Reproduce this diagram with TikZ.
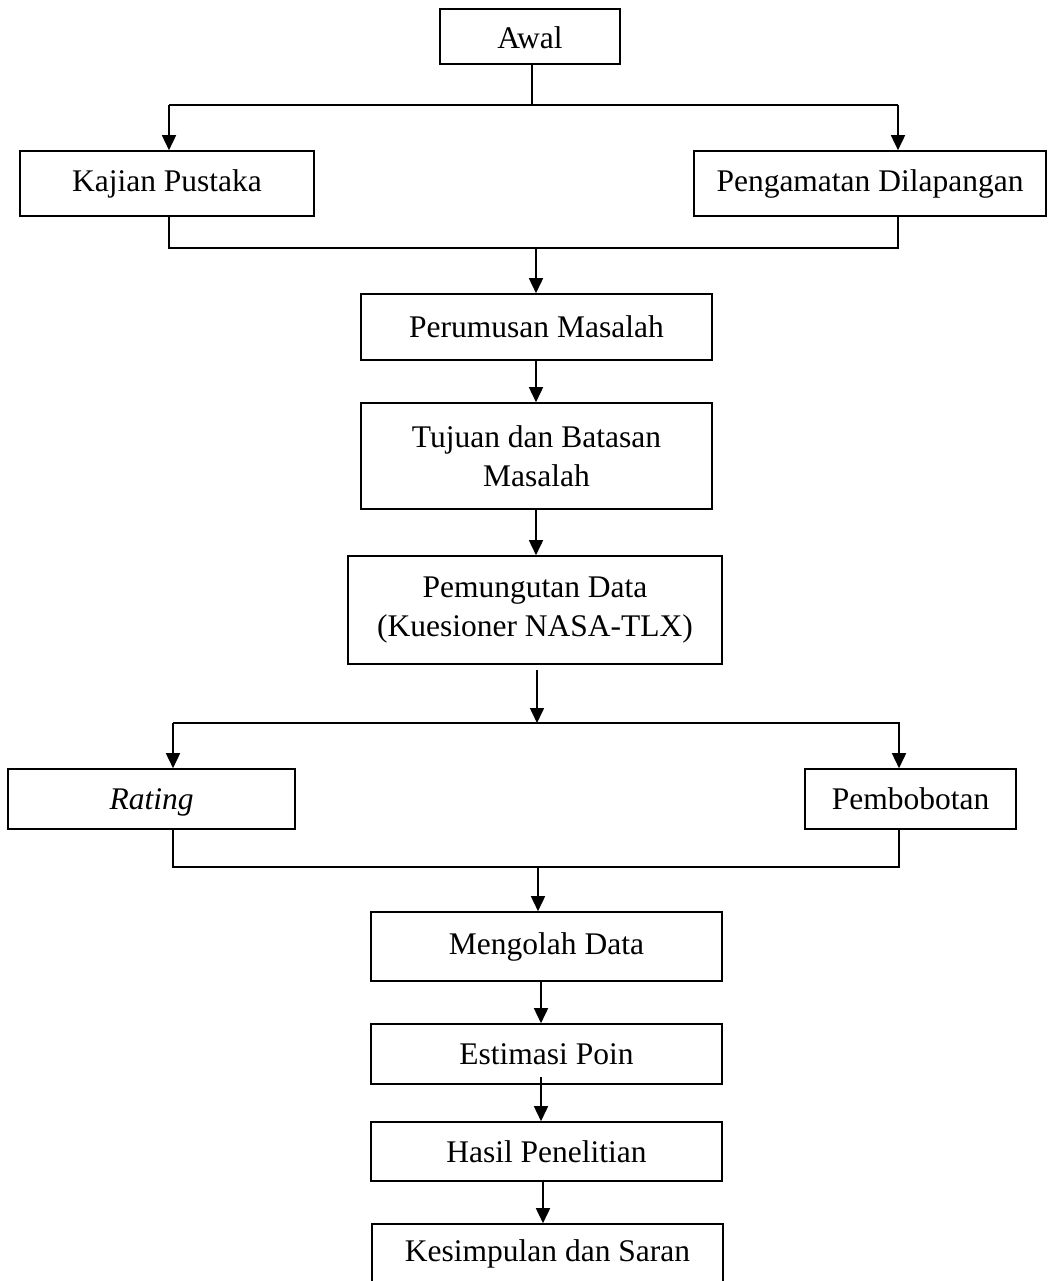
\documentclass[tikz,border=0pt]{standalone}
\usepackage{fontspec}
\setmainfont{Liberation Serif}
\usetikzlibrary{arrows.meta}
\begin{document}
\begin{tikzpicture}[x=1pt,y=-1pt,
  box/.style={draw,line width=1.6pt,rectangle,inner sep=0pt,align=center,font=\fontsize{31.5}{39}\selectfont},
  conn/.style={line width=1.6pt},
  arr/.style={line width=1.6pt,-{Triangle[length=15pt,width=14pt]}}]
\useasboundingbox (0,0) rectangle (1049,1281);
\clip (0,0) rectangle (1049,1281);
% boxes
\node[box,minimum width=180pt,minimum height=55pt,text height=24pt,text depth=0pt] (awal) at (530,36.5) {Awal};
\node[box,minimum width=294pt,minimum height=65pt] (kajian) at (167,183.5) {Kajian Pustaka};
\node[box,minimum width=352pt,minimum height=65pt] (amat) at (870,183.5) {Pengamatan Dilapangan};
\node[box,minimum width=351pt,minimum height=66pt] (rumus) at (536.5,327) {Perumusan Masalah};
\node[box,minimum width=351pt,minimum height=106pt] (tujuan) at (536.5,456) {Tujuan dan Batasan\\Masalah};
\node[box,minimum width=374pt,minimum height=108pt] (pungut) at (535,610) {Pemungutan Data\\(Kuesioner NASA-TLX)};
\node[box,minimum width=287pt,minimum height=60pt,text depth=0pt] (rating) at (151.5,799) {\itshape Rating};
\node[box,minimum width=211pt,minimum height=60pt] (bobot) at (910.5,799) {Pembobotan};
\node[box,minimum width=351pt,minimum height=69pt] (olah) at (546.5,946.5) {Mengolah Data};
\node[box,minimum width=351pt,minimum height=60pt] (estim) at (546.5,1054) {Estimasi Poin};
\node[box,minimum width=351pt,minimum height=59pt] (hasil) at (546.5,1151.5) {Hasil Penelitian};
\node[box,minimum width=351pt,minimum height=70pt] (simpul) at (547.5,1259) {};
\node[font=\fontsize{31.5}{39}\selectfont,inner sep=0pt] (simpultext) at (547.5,1254) {Kesimpulan dan Saran};
% coordinates
\coordinate (a1) at (532,105);
\coordinate (l1) at (169,105);
\coordinate (r1) at (898,105);
\coordinate (l2) at (169,248);
\coordinate (r2) at (898,248);
\coordinate (m2) at (536,248);
\coordinate (p1) at (537,670);
\coordinate (p2) at (537,723);
\coordinate (l3) at (173,723);
\coordinate (r3) at (899,723);
\coordinate (r3e) at (900,723);
\coordinate (l4) at (173,867);
\coordinate (r4) at (899,867);
\coordinate (r4e) at (900,867);
\coordinate (m4) at (538,867);
\coordinate (e1) at (541,1077);
\coordinate (h1) at (543,1181);
% connectors
\draw[conn] (a1 |- awal.south) -- (a1);
\draw[conn] (l1) -- (r1);
\draw[arr] (l1) -- (l1 |- kajian.north);
\draw[arr] (r1) -- (r1 |- amat.north);
\draw[conn] (l1 |- kajian.south) -- (l2) -- (r2) -- (r1 |- amat.south);
\draw[arr] (m2) -- (m2 |- rumus.north);
\draw[arr] (m2 |- rumus.south) -- (m2 |- tujuan.north);
\draw[arr] (m2 |- tujuan.south) -- (m2 |- pungut.north);
\draw[arr] (p1) -- (p2);
\draw[conn] (l3) -- (r3e);
\draw[arr] (l3) -- (l3 |- rating.north);
\draw[arr] (r3) -- (r3 |- bobot.north);
\draw[conn] (l3 |- rating.south) -- (l4) -- (r4e);
\draw[conn] (r4 |- bobot.south) -- (r4);
\draw[arr] (m4) -- (m4 |- olah.north);
\draw[arr] (e1 |- olah.south) -- (e1 |- estim.north);
\draw[arr] (e1) -- (e1 |- hasil.north);
\draw[arr] (h1 |- hasil.south) -- (h1 |- simpul.north);
\end{tikzpicture}
\end{document}
